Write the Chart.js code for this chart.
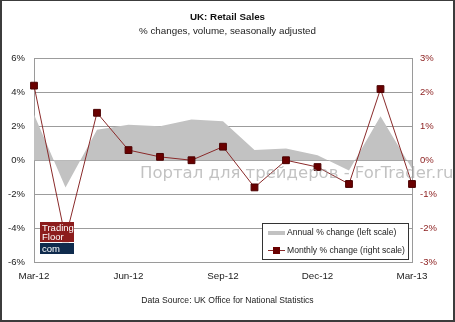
<!DOCTYPE html>
<html lang="en">
<head>
    <meta charset="UTF-8">
    <title>UK: Retail Sales</title>
    <script src="https://cdn.jsdelivr.net/npm/chart.js"></script>
    <style>
        html, body {
            margin: 0;
            padding: 0;
            background-color: #fff;
        }
        .frame {
            width: 455px;
            height: 322px;
            box-sizing: border-box;
            border: 2px solid #3c3c3c;
            border-top-width: 1px;
        }
        canvas {
            display: block;
        }
    </style>
</head>
<body>
    <div class="frame">
        <canvas id="retailChart" width="451" height="319"></canvas>
    </div>

<script>
    // Values
    const months = ['Mar-12', 'Apr-12', 'May-12', 'Jun-12', 'Jul-12', 'Aug-12', 'Sep-12',
                    'Oct-12', 'Nov-12', 'Dec-12', 'Jan-13', 'Feb-13', 'Mar-13'];
    const annualChange = [2.7, -1.6, 1.8, 2.1, 2.0, 2.4, 2.3, 0.6, 0.7, 0.3, -0.6, 2.6, -0.5];
    const monthlyChange = [2.2, -2.3, 1.4, 0.3, 0.1, 0.0, 0.4, -0.8, 0.0, -0.2, -0.7, 2.1, -0.7];
    const leftTicks = [-6, -4, -2, 0, 2, 4, 6];
    const rightTicks = [-3, -2, -1, 0, 1, 2, 3];

    const FONT = "'Liberation Sans', Arial, sans-serif";
    const AREA_GREY = '#c2c2c2';
    const LINE_RED = '#8a2a2a';
    const MARK_RED = '#6a0000';

    // watermark, logo, legend box and source line
    const decor = {
        id: 'decor',
        afterDatasetsDraw(chart) {
            const ctx = chart.ctx;
            ctx.save();

            // watermark
            ctx.globalAlpha = 0.6;
            ctx.fillStyle = '#999';
            ctx.font = "16.5px 'DejaVu Sans', sans-serif";
            ctx.textBaseline = 'alphabetic';
            ctx.textAlign = 'left';
            ctx.fillText('Портал для трейдеров - ForTrader.ru', 138, 177);
            ctx.globalAlpha = 1;

            // TradingFloor logo
            ctx.fillStyle = '#8c1c1c';
            ctx.fillRect(38, 221, 34, 20);
            ctx.fillStyle = '#0f2b4d';
            ctx.fillRect(38, 242, 34, 11);
            ctx.fillStyle = '#fff';
            ctx.font = '9.5px ' + FONT;
            ctx.fillText('Trading', 40, 230);
            ctx.fillText('Floor', 40, 239);
            ctx.fillText('com', 40, 251);

            // legend box
            const bx = 260, by = 222, bw = 146, bh = 36;
            ctx.fillStyle = '#fff';
            ctx.fillRect(bx, by, bw, bh);
            ctx.strokeStyle = '#333';
            ctx.lineWidth = 1;
            ctx.strokeRect(bx + 0.5, by + 0.5, bw, bh);

            const ds = chart.data.datasets;
            ctx.font = '8.6px ' + FONT;
            ctx.textBaseline = 'middle';
            ctx.fillStyle = AREA_GREY;
            ctx.fillRect(bx + 6, by + 8, 17, 4);
            ctx.fillStyle = '#222';
            ctx.fillText(ds[0].label, bx + 25, by + 10);

            ctx.strokeStyle = LINE_RED;
            ctx.beginPath();
            ctx.moveTo(bx + 6, by + 27.5);
            ctx.lineTo(bx + 23, by + 27.5);
            ctx.stroke();
            ctx.fillStyle = MARK_RED;
            ctx.fillRect(bx + 11, by + 24, 7, 7);
            ctx.fillStyle = '#222';
            ctx.fillText(ds[1].label, bx + 25, by + 28);

            ctx.restore();
        },
        afterDraw(chart) {
            const ctx = chart.ctx;
            ctx.save();
            ctx.font = '8.6px ' + FONT;
            ctx.fillStyle = '#222';
            ctx.textAlign = 'center';
            ctx.textBaseline = 'middle';
            ctx.fillText('Data Source: UK Office for National Statistics', chart.width / 2, 300);
            ctx.restore();
        }
    };

    const ctx = document.getElementById('retailChart').getContext('2d');
    new Chart(ctx, {
        data: {
            labels: months,
            datasets: [{
                type: 'line',
                label: 'Annual % change (left scale)',
                data: annualChange,
                yAxisID: 'y',
                fill: 'origin',
                backgroundColor: AREA_GREY,
                borderWidth: 0,
                pointRadius: 0,
                tension: 0,
                order: 2
            }, {
                type: 'line',
                label: 'Monthly % change (right scale)',
                data: monthlyChange,
                yAxisID: 'y1',
                borderColor: LINE_RED,
                borderWidth: 1,
                pointStyle: 'rect',
                pointRadius: 4.8,
                pointBackgroundColor: MARK_RED,
                pointBorderColor: '#4a0000',
                pointBorderWidth: 1,
                tension: 0,
                order: 1
            }]
        },
        options: {
            responsive: false,
            animation: false,
            layout: {
                padding: { top: 0, bottom: 36, left: 0, right: 0 }
            },
            plugins: {
                legend: { display: false },
                tooltip: { enabled: false },
                title: {
                    display: true,
                    text: 'UK: Retail Sales',
                    color: '#111',
                    font: { family: FONT, size: 9.8, weight: 'bold' },
                    padding: { top: 10, bottom: 3 }
                },
                subtitle: {
                    display: true,
                    text: '% changes, volume, seasonally adjusted',
                    color: '#222',
                    font: { family: FONT, size: 9.8 },
                    padding: { top: 0, bottom: 21 }
                }
            },
            scales: {
                x: {
                    offset: false,
                    grid: { display: false, drawTicks: false },
                    border: { color: '#9a9a9a' },
                    ticks: {
                        autoSkip: false,
                        maxRotation: 0,
                        padding: 8,
                        color: '#222',
                        font: { family: FONT, size: 9.8 },
                        callback: (v, i) => (i % 3 === 0 ? months[i] : '')
                    },
                    afterFit: s => { s.height = 22; }
                },
                y: {
                    position: 'left',
                    min: leftTicks[0],
                    max: leftTicks[leftTicks.length - 1],
                    grid: { color: '#9c9c9c', drawTicks: false },
                    border: { color: '#9a9a9a' },
                    afterBuildTicks: s => { s.ticks = leftTicks.map(v => ({ value: v })); },
                    ticks: {
                        padding: 9,
                        color: '#222',
                        font: { family: FONT, size: 9.5 },
                        callback: v => v + '%'
                    },
                    afterFit: s => { s.width = 32; }
                },
                y1: {
                    position: 'right',
                    min: rightTicks[0],
                    max: rightTicks[rightTicks.length - 1],
                    grid: { display: false, drawTicks: false },
                    border: { color: '#9a9a9a' },
                    afterBuildTicks: s => { s.ticks = rightTicks.map(v => ({ value: v })); },
                    ticks: {
                        padding: 8,
                        color: '#8a1c1c',
                        font: { family: FONT, size: 9.5 },
                        callback: v => v + '%'
                    },
                    afterFit: s => { s.width = 41; }
                }
            }
        },
        plugins: [decor]
    });
</script>
</body>
</html>
